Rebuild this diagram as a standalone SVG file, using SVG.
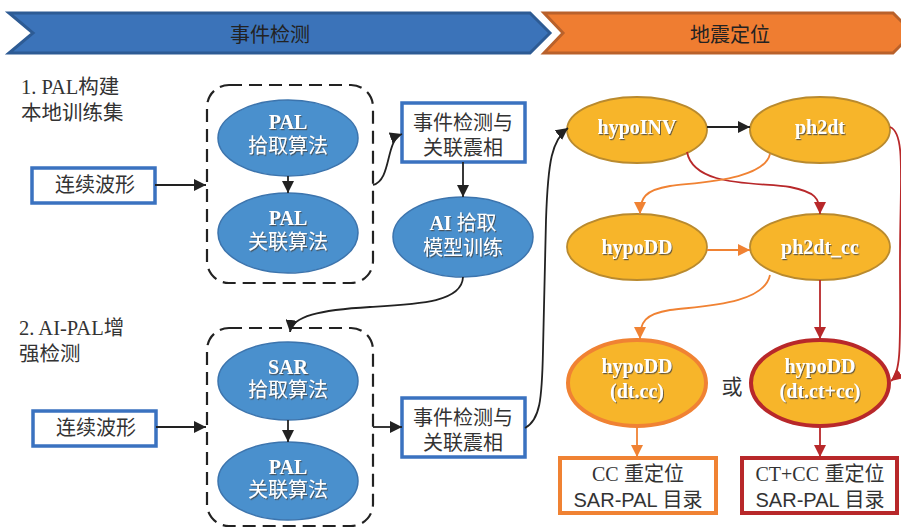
<svg xmlns="http://www.w3.org/2000/svg" width="901" height="531" viewBox="0 0 901 531">
<style>
.cjk{font-family:"Liberation Sans","Noto Sans CJK SC",sans-serif;}
.ser{font-family:"Liberation Serif","Noto Sans CJK SC",serif;}
.hdr{font-size:20px;fill:#222;text-anchor:middle;}
.lbl{font-size:20.5px;fill:#333;}
.box{fill:#fff;stroke:#3a72c0;stroke-width:3.5;}
.btxt{font-size:20px;fill:#333;text-anchor:middle;}
.dash{fill:none;stroke:#222;stroke-width:2.2;stroke-dasharray:13 7;}
.be{fill:#4a90cd;stroke:#3c74ad;stroke-width:1.5;}
.ge{fill:#f7b52a;stroke:#b98a2e;stroke-width:1.8;}
.wt{fill:#fff;font-size:20px;text-anchor:middle;filter:url(#sh);}
.bold{font-weight:bold;}
.k{fill:none;stroke:#222;stroke-width:1.8;}
.o{fill:none;stroke:#f08233;stroke-width:1.8;}
.r{fill:none;stroke:#b8282a;stroke-width:1.8;}
</style>
<defs>
<filter id="sh" x="-20%" y="-20%" width="140%" height="140%">
<feDropShadow dx="1" dy="1.2" stdDeviation="0.6" flood-color="#444" flood-opacity="0.8"/>
</filter>
<marker id="ak" markerUnits="userSpaceOnUse" markerWidth="13" markerHeight="12" refX="12" refY="6" orient="auto"><path d="M0,0 L12,6 L0,12 Z" fill="#222"/></marker>
<marker id="ao" markerUnits="userSpaceOnUse" markerWidth="13" markerHeight="12" refX="12" refY="6" orient="auto"><path d="M0,0 L12,6 L0,12 Z" fill="#f08233"/></marker>
<marker id="ar" markerUnits="userSpaceOnUse" markerWidth="13" markerHeight="12" refX="12" refY="6" orient="auto"><path d="M0,0 L12,6 L0,12 Z" fill="#b8282a"/></marker>
</defs>

<g id="banner-detect">
<polygon points="9,13 530,13 550,33 530,53 9,53 33,33" fill="#3b73b9" stroke="#2d5b94" stroke-width="3"/>
<text class="cjk hdr" x="270" y="42">事件检测</text>
</g>
<g id="banner-locate">
<polygon points="544,13 893,13 913,33 893,53 544,53 563,33" fill="#ef7d31" stroke="#b9612b" stroke-width="3"/>
<text class="cjk hdr" x="730" y="42">地震定位</text>
</g>

<g id="label1">
<text class="ser lbl" x="21" y="94">1. PAL构建</text>
<text class="ser lbl" x="21" y="120">本地训练集</text>
</g>
<g id="label2">
<text class="ser lbl" x="19" y="335">2. AI-PAL增</text>
<text class="ser lbl" x="19" y="361">强检测</text>
</g>

<g id="group1"><rect class="dash" x="207" y="85" width="166" height="198" rx="22"/></g>
<g id="group2"><rect class="dash" x="207" y="328" width="166" height="198" rx="22"/></g>

<g id="wave1">
<rect class="box" x="32" y="168" width="123" height="35"/>
<text class="cjk btxt" x="95" y="192">连续波形</text>
</g>
<g id="wave2">
<rect class="box" x="33" y="411" width="123" height="35"/>
<text class="cjk btxt" x="96" y="435">连续波形</text>
</g>

<g id="pal-pick">
<ellipse class="be" cx="288" cy="138" rx="70" ry="38"/>
<text class="ser wt bold" x="288" y="129">PAL</text>
<text class="cjk wt" x="288" y="153">拾取算法</text>
</g>
<g id="pal-assoc1">
<ellipse class="be" cx="288" cy="233" rx="70" ry="40"/>
<text class="ser wt bold" x="288" y="225">PAL</text>
<text class="cjk wt" x="288" y="249">关联算法</text>
</g>
<g id="sar-pick">
<ellipse class="be" cx="288" cy="381" rx="70" ry="39"/>
<text class="ser wt bold" x="288" y="374">SAR</text>
<text class="cjk wt" x="288" y="397">拾取算法</text>
</g>
<g id="pal-assoc2">
<ellipse class="be" cx="288" cy="481" rx="70" ry="39"/>
<text class="ser wt bold" x="288" y="474">PAL</text>
<text class="cjk wt" x="288" y="497">关联算法</text>
</g>

<g id="detect1">
<rect class="box" x="402" y="103" width="123" height="59"/>
<text class="cjk btxt" x="463" y="130">事件检测与</text>
<text class="cjk btxt" x="463" y="155">关联震相</text>
</g>
<g id="ai-train">
<ellipse class="be" cx="463" cy="237" rx="70" ry="40"/>
<text class="ser wt bold" x="463" y="230">AI <tspan class="cjk" font-weight="normal">拾取</tspan></text>
<text class="cjk wt" x="463" y="255">模型训练</text>
</g>
<g id="detect2">
<rect class="box" x="402" y="398" width="123" height="59"/>
<text class="cjk btxt" x="463" y="425">事件检测与</text>
<text class="cjk btxt" x="463" y="450">关联震相</text>
</g>

<g id="hypoINV">
<ellipse class="ge" cx="637" cy="130" rx="70" ry="33"/>
<text class="ser wt bold" x="637" y="134">hypoINV</text>
</g>
<g id="ph2dt">
<ellipse class="ge" cx="820" cy="130" rx="70" ry="33"/>
<text class="ser wt bold" x="820" y="134">ph2dt</text>
</g>
<g id="hypoDD">
<ellipse class="ge" cx="637" cy="247" rx="70" ry="33"/>
<text class="ser wt bold" x="637" y="254">hypoDD</text>
</g>
<g id="ph2dt_cc">
<ellipse class="ge" cx="820" cy="247" rx="70" ry="33"/>
<text class="ser wt bold" x="820" y="254">ph2dt_cc</text>
</g>
<g id="hypoDD-cc">
<ellipse cx="637" cy="383" rx="69" ry="43" fill="#f7b52a" stroke="#f08233" stroke-width="4"/>
<text class="ser wt bold" x="637" y="373">hypoDD</text>
<text class="ser wt bold" x="637" y="398">(dt.cc)</text>
</g>
<g id="or-label"><text class="cjk" x="732" y="394" font-size="21" fill="#333" text-anchor="middle">或</text></g>
<g id="hypoDD-ctcc">
<ellipse cx="820" cy="383" rx="69" ry="43" fill="#f7b52a" stroke="#b8282a" stroke-width="4"/>
<text class="ser wt bold" x="820" y="373">hypoDD</text>
<text class="ser wt bold" x="820" y="398">(dt.ct+cc)</text>
</g>
<g id="cat-cc">
<rect x="560" y="458" width="156" height="55" fill="#fff" stroke="#f08233" stroke-width="4"/>
<text class="btxt" x="638" y="481"><tspan class="ser">CC</tspan><tspan class="cjk"> 重定位</tspan></text>
<text class="cjk btxt" x="638" y="507">SAR-PAL 目录</text>
</g>
<g id="cat-ctcc">
<rect x="742" y="458" width="155" height="55" fill="#fff" stroke="#b8282a" stroke-width="4"/>
<text class="btxt" x="820" y="481"><tspan class="ser">CT+CC</tspan><tspan class="cjk"> 重定位</tspan></text>
<text class="cjk btxt" x="820" y="507">SAR-PAL 目录</text>
</g>

<g id="connectors">
<path class="k" d="M155,185 L206,185" marker-end="url(#ak)"/>
<path class="k" d="M288,176 L288,193" marker-end="url(#ak)"/>
<path class="k" d="M373,185 C392,180 385,140 402,134" marker-end="url(#ak)"/>
<path class="k" d="M463,162 L463,197" marker-end="url(#ak)"/>
<path class="k" d="M463,277 C462,302 420,304 370,307 C320,310 292,316 290,332" marker-end="url(#ak)"/>
<path class="k" d="M156,427 L206,427" marker-end="url(#ak)"/>
<path class="k" d="M288,420 L288,442" marker-end="url(#ak)"/>
<path class="k" d="M373,427 L402,427" marker-end="url(#ak)"/>
<path class="k" d="M525,428 C540,420 542,400 543,350 L546,220 C548,160 552,140 568,128" marker-end="url(#ak)"/>
<path class="k" d="M707,127 L750,127" marker-end="url(#ak)"/>
<path class="o" d="M707,250 L750,250" marker-end="url(#ao)"/>
<path class="r" d="M687,152 C694,188 760,182 790,187 C815,192 820,198 820,214" marker-end="url(#ar)"/>
<path class="o" d="M770,154 C764,180 700,182 670,186 C645,190 640,198 640,214" marker-end="url(#ao)"/>
<path class="r" d="M890,127 C906,133 900,180 900,260 C900,340 902,372 891,381" marker-end="url(#ar)"/>
<path class="o" d="M770,275 C764,305 700,306 670,310 C645,314 640,322 640,339" marker-end="url(#ao)"/>
<path class="r" d="M820,280 L820,339" marker-end="url(#ar)"/>
<path class="o" d="M637,427 L637,457" marker-end="url(#ao)"/>
<path class="r" d="M820,427 L820,457" marker-end="url(#ar)"/>
</g>
</svg>
